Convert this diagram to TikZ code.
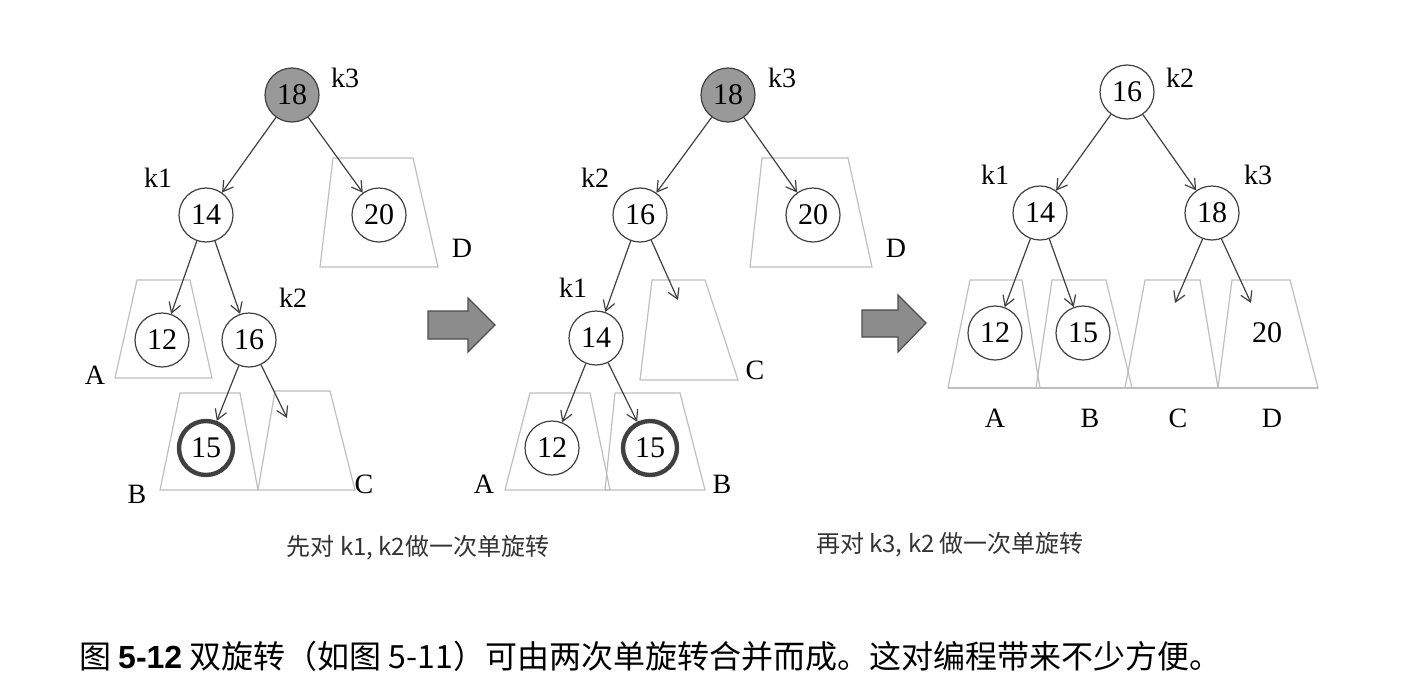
\documentclass[tikz,border=0pt]{standalone}
\usepackage{fontspec}
\usetikzlibrary{arrows.meta}
\setmainfont{Liberation Serif}
\newfontfamily\cjk{Noto Sans CJK SC}
\newfontfamily\hsans{Liberation Sans}
\begin{document}
\begin{tikzpicture}[x=0.5pt,y=-0.5pt,
  nd/.style={circle,draw=black!75,line width=0.6pt,minimum size=27pt,inner sep=0pt,font=\fontsize{15}{15}\selectfont},
  hot/.style={nd,fill=black!40},
  bold/.style={nd,line width=2.2pt},
  lab/.style={font=\fontsize{14}{14}\selectfont},
  sub/.style={draw=black!25,line width=0.6pt},
  edge/.style={draw=black!75,line width=0.6pt,-{Straight Barb[length=5pt,width=6pt]}},
  big/.style={draw=black!70,fill=black!45,line width=0.6pt}]
\useasboundingbox (0,0) rectangle (1416,690);
% ---------- tree 1
\draw[sub] (320,267) -- (333,158) -- (413,158) -- (438,267) -- cycle;
\draw[sub] (115,378) -- (137,280) -- (190,280) -- (212,378) -- cycle;
\draw[sub] (160,490) -- (180,393) -- (240,393) -- (258,490) -- cycle;
\draw[sub] (258,490) -- (275,391) -- (330,391) -- (355,490) -- cycle;
\node[hot] (a18) at (292,95) {18};
\node[nd] (a14) at (206,215) {14};
\node[nd] (a20) at (379,215) {20};
\node[nd] (a12) at (162,340) {12};
\node[nd] (a16) at (249,340) {16};
\node[bold] (a15) at (206,448) {15};
\coordinate (aC) at (287,418);
\draw[edge] (a18) -- (a14);
\draw[edge] (a18) -- (a20);
\draw[edge] (a14) -- (a12);
\draw[edge] (a14) -- (a16);
\draw[edge] (a16) -- (a15);
\draw[edge] (a16) -- (aC);
\node[lab] (ak3) at (345,78) {k3};
\node[lab] (ak1) at (158,178) {k1};
\node[lab] (ak2) at (293,298) {k2};
\node[lab] (aD) at (462,248) {D};
\node[lab] (aA) at (95,375) {A};
\node[lab] (aB) at (137,494) {B};
\node[lab] (aCl) at (364,484) {C};
% arrow 1
\draw[big] (428,311) -- (468,311) -- (468,298) -- (495,325) -- (468,352) -- (468,339) -- (428,339) -- cycle;
% ---------- tree 2
\draw[sub] (750,267) -- (762,158) -- (848,158) -- (872,267) -- cycle;
\draw[sub] (640,380) -- (652,280) -- (705,280) -- (738,380) -- cycle;
\draw[sub] (505,490) -- (530,393) -- (590,393) -- (610,490) -- cycle;
\draw[sub] (605,490) -- (615,393) -- (680,393) -- (705,490) -- cycle;
\node[hot] (b18) at (728,95) {18};
\node[nd] (b16) at (640,215) {16};
\node[nd] (b20) at (813,215) {20};
\node[nd] (b14) at (596,338) {14};
\node[nd] (b12) at (552,448) {12};
\node[bold] (b15) at (650,448) {15};
\coordinate (bC) at (678,300);
\draw[edge] (b18) -- (b16);
\draw[edge] (b18) -- (b20);
\draw[edge] (b16) -- (b14);
\draw[edge] (b16) -- (bC);
\draw[edge] (b14) -- (b12);
\draw[edge] (b14) -- (b15);
\node[lab] (bk3) at (782,78) {k3};
\node[lab] (bk2) at (595,178) {k2};
\node[lab] (bk1) at (573,288) {k1};
\node[lab] (bD) at (896,248) {D};
\node[lab] (bCl) at (755,370) {C};
\node[lab] (bA) at (484,484) {A};
\node[lab] (bB) at (722,484) {B};
% arrow 2
\draw[big] (862,310) -- (898,310) -- (898,295) -- (926,323) -- (898,352) -- (898,337) -- (862,337) -- cycle;
% ---------- tree 3
\draw[sub] (948,388) -- (970,280) -- (1022,280) -- (1040,388) -- cycle;
\draw[sub] (1036,388) -- (1052,280) -- (1106,280) -- (1132,388) -- cycle;
\draw[sub] (1125,388) -- (1145,280) -- (1200,280) -- (1218,388) -- cycle;
\draw[sub] (1218,388) -- (1232,280) -- (1290,280) -- (1318,388) -- cycle;
\draw[sub] (948,388) -- (1318,388);
\node[nd] (c16) at (1127,92) {16};
\node[nd] (c14) at (1040,213) {14};
\node[nd] (c18) at (1212,213) {18};
\node[nd] (c12) at (995,333) {12};
\node[nd] (c15) at (1083,333) {15};
\node[font=\fontsize{15}{15}\selectfont] (c20) at (1267,333) {20};
\coordinate (cC) at (1175,303);
\coordinate (cD) at (1251,303);
\draw[edge] (c16) -- (c14);
\draw[edge] (c16) -- (c18);
\draw[edge] (c14) -- (c12);
\draw[edge] (c14) -- (c15);
\draw[edge] (c18.250) -- (cC);
\draw[edge] (c18.290) -- (cD);
\node[lab] (ck2) at (1180,78) {k2};
\node[lab] (ck1) at (995,175) {k1};
\node[lab] (ck3) at (1258,175) {k3};
\node[lab] (cA) at (995,418) {A};
\node[lab] (cB) at (1090,418) {B};
\node[lab] (cCl) at (1178,418) {C};
\node[lab] (cDl) at (1272,418) {D};
% captions
\node[font=\cjk\fontsize{12}{12}\selectfont,text=black!80] (cap1) at (418,548) {先对 k1, k2做一次单旋转};
\node[font=\cjk\fontsize{12}{12}\selectfont,text=black!80] (cap2) at (950,545) {再对 k3, k2 做一次单旋转};
\node[anchor=west,font=\cjk\fontsize{16}{16}\selectfont] (cap) at (72,656) {图 {\hsans\bfseries 5-12} 双旋转（如图 5-11）可由两次单旋转合并而成。这对编程带来不少方便。};
\end{tikzpicture}
\end{document}
